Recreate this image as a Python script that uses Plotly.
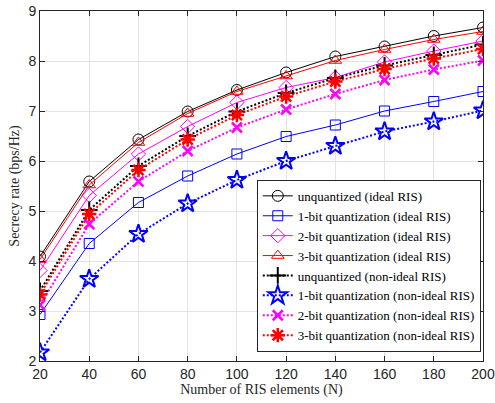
import plotly.graph_objects as go

N = [20, 40, 60, 80, 100, 120, 140, 160, 180, 200]

unq_ideal = [4.09, 5.59, 6.43, 6.99, 7.42, 7.77, 8.09, 8.29, 8.50, 8.67]
b1_ideal = [2.93, 4.35, 5.17, 5.70, 6.14, 6.49, 6.72, 7.00, 7.19, 7.39]
b2_ideal = [3.81, 5.31, 6.14, 6.69, 7.17, 7.47, 7.67, 7.98, 8.20, 8.40]
b3_ideal = [4.03, 5.52, 6.37, 6.95, 7.39, 7.70, 8.01, 8.23, 8.43, 8.59]
unq_non = [3.40, 5.02, 5.90, 6.50, 6.99, 7.36, 7.66, 7.91, 8.12, 8.33]
b1_non = [2.17, 3.64, 4.54, 5.15, 5.62, 6.00, 6.30, 6.59, 6.79, 7.01]
b2_non = [3.12, 4.74, 5.59, 6.20, 6.67, 7.03, 7.34, 7.62, 7.83, 8.01]
b3_non = [3.33, 4.94, 5.82, 6.43, 6.92, 7.29, 7.59, 7.84, 8.05, 8.24]

names = [
    "unquantized (ideal RIS)",
    "1-bit quantization (ideal RIS)",
    "2-bit quantization (ideal RIS)",
    "3-bit quantization (ideal RIS)",
    "unquantized (non-ideal RIS)",
    "1-bit quantization (non-ideal RIS)",
    "2-bit quantization (non-ideal RIS)",
    "3-bit quantization (non-ideal RIS)",
]
series = [unq_ideal, b1_ideal, b2_ideal, b3_ideal, unq_non, b1_non, b2_non, b3_non]
colors = ["#000000", "#0000FF", "#FF00FF", "#FF0000", "#000000", "#0000FF", "#FF00FF", "#FF0000"]
symbols = ["circle-open", "square-open", "diamond-open", "triangle-up-open",
           "cross-thin-open", "star-open", "x-thin-open", "asterisk-open"]
sizes = [11, 10, 11, 11, 12, 14, 10, 12]
mlw = [1, 1, 1, 1, 2, 2, 2.5, 2.5]
dash = ["solid"] * 4 + ["2px,2px"] * 4
lw = [1, 1, 1, 1, 2, 2, 2, 2]

fig = go.Figure()
for nm, ys, c, s, sz, mw, d, w in zip(names, series, colors, symbols, sizes, mlw, dash, lw):
    fig.add_trace(go.Scatter(
        x=N, y=ys, name=nm, mode="lines+markers",
        line=dict(color=c, width=w, dash=d),
        marker=dict(symbol=s, size=sz, color=c, line=dict(color=c, width=mw)),
    ))

axis_common = dict(
    automargin=False,
    showgrid=True, gridcolor="#e3e3e3", gridwidth=1,
    showline=True, linecolor="#262626", linewidth=1, mirror="ticks",
    ticks="inside", ticklen=5, tickcolor="#262626",
    tickfont=dict(family="Liberation Sans, Arial", size=14, color="#262626"),
    zeroline=False,
)
title_font = dict(family="Liberation Serif, Times New Roman", size=14, color="#262626")

fig.update_layout(
    width=495, height=403,
    margin=dict(l=40, r=12, t=11, b=42),
    paper_bgcolor="white", plot_bgcolor="white",
    xaxis=dict(range=[20, 200], tickvals=[20, 40, 60, 80, 100, 120, 140, 160, 180, 200],
               title=dict(text="Number of RIS elements (N)", standoff=3, font=title_font),
               **axis_common),
    yaxis=dict(range=[2, 9], tickvals=[2, 3, 4, 5, 6, 7, 8, 9],
               title=dict(text="Secrecy rate (bps/Hz)", standoff=5, font=title_font),
               **axis_common),
    legend=dict(x=0.995, y=0.026, xanchor="right", yanchor="bottom",
                bgcolor="white", bordercolor="#262626", borderwidth=1,
                font=dict(family="Liberation Serif, Times New Roman", size=13, color="#000000"),
                tracegroupgap=0, itemwidth=30),
    showlegend=True,
)

fig.write_html("out.html", config={"displayModeBar": False},
               post_script="document.body.style.margin='0';document.body.style.overflow='hidden';")
